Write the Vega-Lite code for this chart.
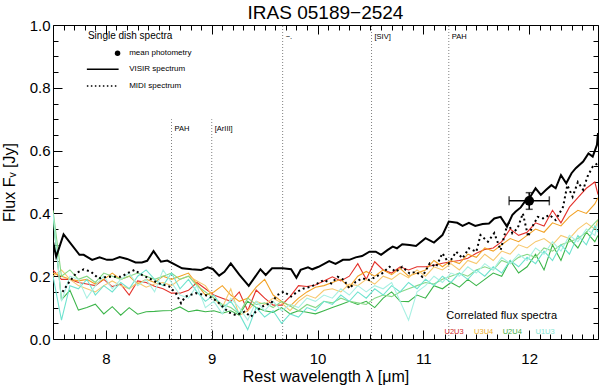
{
  "$schema": "https://vega.github.io/schema/vega-lite/v6.json",
  "width": 545,
  "height": 314,
  "autosize": {"type": "none"},
  "padding": {"left": 53, "top": 25, "right": 2, "bottom": 47},
  "title": {"text": "IRAS 05189\u22122524", "font": "Liberation Sans", "fontSize": 19, "fontWeight": "normal", "color": "#000", "anchor": "middle", "offset": -5},
  "config": {
    "view": {"stroke": "#000", "strokeWidth": 1},
    "font": "Liberation Sans",
    "axis": {"domain": false, "grid": false, "tickColor": "#000", "tickWidth": 1, "labelColor": "#000", "titleColor": "#000", "labelFont": "Liberation Sans", "titleFont": "Liberation Sans", "labelFontSize": 15, "titleFontSize": 16, "titleFontWeight": "normal", "labelOverlap": false, "labelFlush": false}
  },
  "resolve": {"axis": {"x": "independent", "y": "independent"}},
  "datasets": {
    "vl": [
      {"x": 8.62, "bot": 0, "top": 0.70},
      {"x": 9.0, "bot": 0, "top": 0.70},
      {"x": 9.67, "bot": 0, "top": 1.0},
      {"x": 10.51, "bot": 0, "top": 1.0},
      {"x": 11.24, "bot": 0, "top": 1.0}
    ],
    "visir": [
      {"x":7.50,"y":0.31},{"x":7.53,"y":0.262},{"x":7.60,"y":0.333},{"x":7.75,"y":0.268},{"x":7.79,"y":0.268},
      {"x":7.87,"y":0.252},{"x":7.94,"y":0.26},{"x":8.01,"y":0.252},{"x":8.06,"y":0.252},{"x":8.13,"y":0.261},
      {"x":8.20,"y":0.255},{"x":8.28,"y":0.244},{"x":8.34,"y":0.244},{"x":8.39,"y":0.249},{"x":8.45,"y":0.28},
      {"x":8.52,"y":0.246},{"x":8.58,"y":0.25},{"x":8.64,"y":0.239},{"x":8.72,"y":0.225},{"x":8.81,"y":0.222},
      {"x":8.90,"y":0.22},{"x":8.96,"y":0.228},{"x":9.01,"y":0.223},{"x":9.07,"y":0.202},{"x":9.12,"y":0.214},
      {"x":9.18,"y":0.241},{"x":9.26,"y":0.205},{"x":9.35,"y":0.169},{"x":9.46,"y":0.222},{"x":9.51,"y":0.204},
      {"x":9.57,"y":0.225},{"x":9.67,"y":0.225},{"x":9.75,"y":0.222},{"x":9.80,"y":0.195},{"x":9.84,"y":0.22},
      {"x":9.91,"y":0.228},{"x":9.95,"y":0.222},{"x":10.01,"y":0.23},{"x":10.11,"y":0.248},{"x":10.17,"y":0.239},
      {"x":10.24,"y":0.252},{"x":10.30,"y":0.252},{"x":10.36,"y":0.26},{"x":10.42,"y":0.264},{"x":10.49,"y":0.278},
      {"x":10.55,"y":0.278},{"x":10.60,"y":0.268},{"x":10.66,"y":0.283},{"x":10.71,"y":0.294},{"x":10.75,"y":0.289},
      {"x":10.80,"y":0.302},{"x":10.87,"y":0.299},{"x":10.93,"y":0.296},{"x":11.02,"y":0.321},{"x":11.10,"y":0.307},
      {"x":11.18,"y":0.331},{"x":11.24,"y":0.374},{"x":11.32,"y":0.37},{"x":11.37,"y":0.36},{"x":11.43,"y":0.37},
      {"x":11.49,"y":0.36},{"x":11.56,"y":0.366},{"x":11.62,"y":0.368},{"x":11.67,"y":0.384},{"x":11.73,"y":0.389},
      {"x":11.79,"y":0.358},{"x":11.84,"y":0.395},{"x":11.87,"y":0.405},{"x":11.92,"y":0.419},{"x":11.97,"y":0.443},
      {"x":12.01,"y":0.453},{"x":12.06,"y":0.48},{"x":12.11,"y":0.459},{"x":12.16,"y":0.475},{"x":12.21,"y":0.49},
      {"x":12.25,"y":0.48},{"x":12.30,"y":0.522},{"x":12.35,"y":0.496},{"x":12.40,"y":0.528},{"x":12.44,"y":0.544},
      {"x":12.51,"y":0.565},{"x":12.56,"y":0.591},{"x":12.60,"y":0.581},{"x":12.64,"y":0.618},{"x":12.65,"y":0.656}
    ],
    "midi": [
      {"x":7.59,"y":0.15},{"x":7.65,"y":0.18},{"x":7.72,"y":0.21},{"x":7.79,"y":0.222},{"x":7.86,"y":0.214},
      {"x":7.93,"y":0.193},{"x":8.01,"y":0.198},{"x":8.08,"y":0.198},{"x":8.14,"y":0.198},{"x":8.20,"y":0.209},
      {"x":8.27,"y":0.22},{"x":8.34,"y":0.204},{"x":8.41,"y":0.193},{"x":8.50,"y":0.177},{"x":8.60,"y":0.167},
      {"x":8.66,"y":0.146},{"x":8.71,"y":0.114},{"x":8.75,"y":0.135},{"x":8.85,"y":0.146},{"x":8.94,"y":0.14},
      {"x":9.01,"y":0.13},{"x":9.07,"y":0.114},{"x":9.16,"y":0.085},{"x":9.23,"y":0.076},{"x":9.31,"y":0.087},
      {"x":9.37,"y":0.071},{"x":9.43,"y":0.092},{"x":9.50,"y":0.108},{"x":9.56,"y":0.114},{"x":9.62,"y":0.14},
      {"x":9.68,"y":0.151},{"x":9.75,"y":0.135},{"x":9.81,"y":0.151},{"x":9.87,"y":0.161},{"x":9.94,"y":0.167},
      {"x":10.00,"y":0.177},{"x":10.06,"y":0.188},{"x":10.13,"y":0.177},{"x":10.19,"y":0.198},{"x":10.25,"y":0.188},
      {"x":10.30,"y":0.161},{"x":10.36,"y":0.182},{"x":10.42,"y":0.193},{"x":10.49,"y":0.188},{"x":10.55,"y":0.198},
      {"x":10.61,"y":0.209},{"x":10.68,"y":0.23},{"x":10.74,"y":0.214},{"x":10.80,"y":0.23},{"x":10.87,"y":0.209},
      {"x":10.93,"y":0.214},{"x":10.99,"y":0.198},{"x":11.06,"y":0.241},{"x":11.12,"y":0.23},{"x":11.18,"y":0.273},
      {"x":11.24,"y":0.241},{"x":11.31,"y":0.278},{"x":11.37,"y":0.257},{"x":11.43,"y":0.289},{"x":11.50,"y":0.278},
      {"x":11.54,"y":0.331},{"x":11.61,"y":0.31},{"x":11.67,"y":0.337},{"x":11.73,"y":0.283},{"x":11.80,"y":0.374},
      {"x":11.84,"y":0.337},{"x":11.89,"y":0.352},{"x":11.94,"y":0.40},{"x":11.99,"y":0.326},{"x":12.03,"y":0.358},
      {"x":12.08,"y":0.389},{"x":12.13,"y":0.384},{"x":12.19,"y":0.395},{"x":12.25,"y":0.379},{"x":12.32,"y":0.421},
      {"x":12.36,"y":0.49},{"x":12.41,"y":0.453},{"x":12.46,"y":0.50},{"x":12.51,"y":0.475},{"x":12.55,"y":0.517},
      {"x":12.60,"y":0.549},{"x":12.65,"y":0.56}
    ],
    "corr": [
      {"x":7.50,"r":0.22,"o1":0.21,"o2":0.20,"g1":0.39,"g2":0.41,"c1":0.20,"c2":0.40},
      {"x":7.58,"r":0.19,"o1":0.20,"o2":0.22,"g1":0.125,"g2":0.20,"c1":0.06,"c2":0.12},
      {"x":7.66,"r":0.19,"o1":0.19,"o2":0.19,"g1":0.155,"g2":0.22,"c1":0.17,"c2":0.20},
      {"x":7.74,"r":0.18,"o1":0.185,"o2":0.17,"g1":0.092,"g2":0.19,"c1":0.16,"c2":0.19},
      {"x":7.82,"r":0.175,"o1":0.19,"o2":0.16,"g1":0.10,"g2":0.20,"c1":0.19,"c2":0.13},
      {"x":7.90,"r":0.17,"o1":0.175,"o2":0.15,"g1":0.111,"g2":0.18,"c1":0.14,"c2":0.17},
      {"x":7.98,"r":0.19,"o1":0.19,"o2":0.17,"g1":0.08,"g2":0.21,"c1":0.17,"c2":0.20},
      {"x":8.06,"r":0.167,"o1":0.21,"o2":0.185,"g1":0.103,"g2":0.20,"c1":0.15,"c2":0.16},
      {"x":8.14,"r":0.175,"o1":0.19,"o2":0.17,"g1":0.076,"g2":0.19,"c1":0.18,"c2":0.19},
      {"x":8.22,"r":0.14,"o1":0.20,"o2":0.16,"g1":0.10,"g2":0.20,"c1":0.16,"c2":0.21},
      {"x":8.30,"r":0.185,"o1":0.175,"o2":0.18,"g1":0.079,"g2":0.21,"c1":0.20,"c2":0.17},
      {"x":8.38,"r":0.18,"o1":0.19,"o2":0.165,"g1":0.087,"g2":0.20,"c1":0.22,"c2":0.19},
      {"x":8.46,"r":0.168,"o1":0.18,"o2":0.175,"g1":0.088,"g2":0.19,"c1":0.19,"c2":0.15},
      {"x":8.54,"r":0.16,"o1":0.20,"o2":0.18,"g1":0.09,"g2":0.20,"c1":0.17,"c2":0.22},
      {"x":8.62,"r":0.146,"o1":0.19,"o2":0.17,"g1":0.091,"g2":0.21,"c1":0.21,"c2":0.18},
      {"x":8.70,"r":0.146,"o1":0.20,"o2":0.19,"g1":0.102,"g2":0.19,"c1":0.16,"c2":0.14},
      {"x":8.78,"r":0.155,"o1":0.21,"o2":0.20,"g1":0.087,"g2":0.20,"c1":0.19,"c2":0.13},
      {"x":8.86,"r":0.18,"o1":0.175,"o2":0.185,"g1":0.092,"g2":0.17,"c1":0.15,"c2":0.17},
      {"x":8.94,"r":0.16,"o1":0.14,"o2":0.17,"g1":0.087,"g2":0.15,"c1":0.12,"c2":0.10},
      {"x":9.02,"r":0.14,"o1":0.15,"o2":0.13,"g1":0.09,"g2":0.13,"c1":0.14,"c2":0.12},
      {"x":9.10,"r":0.13,"o1":0.17,"o2":0.10,"g1":0.082,"g2":0.11,"c1":0.10,"c2":0.08},
      {"x":9.18,"r":0.12,"o1":0.14,"o2":0.16,"g1":0.09,"g2":0.10,"c1":0.12,"c2":0.13},
      {"x":9.26,"r":0.15,"o1":0.12,"o2":0.075,"g1":0.076,"g2":0.08,"c1":0.08,"c2":0.10},
      {"x":9.34,"r":0.09,"o1":0.13,"o2":0.09,"g1":0.12,"g2":0.13,"c1":0.03,"c2":0.06},
      {"x":9.42,"r":0.156,"o1":0.165,"o2":0.12,"g1":0.10,"g2":0.11,"c1":0.10,"c2":0.12},
      {"x":9.50,"r":0.13,"o1":0.19,"o2":0.11,"g1":0.09,"g2":0.115,"c1":0.07,"c2":0.09},
      {"x":9.58,"r":0.108,"o1":0.14,"o2":0.13,"g1":0.085,"g2":0.10,"c1":0.09,"c2":0.12},
      {"x":9.66,"r":0.108,"o1":0.12,"o2":0.115,"g1":0.10,"g2":0.12,"c1":0.05,"c2":0.09},
      {"x":9.74,"r":0.135,"o1":0.105,"o2":0.09,"g1":0.08,"g2":0.105,"c1":0.08,"c2":0.11},
      {"x":9.82,"r":0.17,"o1":0.13,"o2":0.12,"g1":0.09,"g2":0.09,"c1":0.07,"c2":0.10},
      {"x":9.90,"r":0.167,"o1":0.15,"o2":0.14,"g1":0.085,"g2":0.11,"c1":0.10,"c2":0.13},
      {"x":9.98,"r":0.172,"o1":0.165,"o2":0.13,"g1":0.08,"g2":0.10,"c1":0.09,"c2":0.12},
      {"x":10.06,"r":0.185,"o1":0.17,"o2":0.155,"g1":0.09,"g2":0.12,"c1":0.12,"c2":0.14},
      {"x":10.14,"r":0.198,"o1":0.18,"o2":0.16,"g1":0.10,"g2":0.115,"c1":0.11,"c2":0.13},
      {"x":10.22,"r":0.185,"o1":0.19,"o2":0.15,"g1":0.11,"g2":0.13,"c1":0.14,"c2":0.16},
      {"x":10.30,"r":0.20,"o1":0.165,"o2":0.175,"g1":0.12,"g2":0.12,"c1":0.12,"c2":0.14},
      {"x":10.38,"r":0.24,"o1":0.20,"o2":0.17,"g1":0.11,"g2":0.115,"c1":0.15,"c2":0.17},
      {"x":10.46,"r":0.19,"o1":0.215,"o2":0.19,"g1":0.12,"g2":0.11,"c1":0.13,"c2":0.15},
      {"x":10.54,"r":0.246,"o1":0.20,"o2":0.175,"g1":0.10,"g2":0.13,"c1":0.16,"c2":0.17},
      {"x":10.62,"r":0.22,"o1":0.22,"o2":0.20,"g1":0.13,"g2":0.14,"c1":0.14,"c2":0.16},
      {"x":10.70,"r":0.21,"o1":0.205,"o2":0.19,"g1":0.15,"g2":0.135,"c1":0.17,"c2":0.18},
      {"x":10.78,"r":0.23,"o1":0.225,"o2":0.21,"g1":0.12,"g2":0.15,"c1":0.15,"c2":0.12},
      {"x":10.86,"r":0.22,"o1":0.20,"o2":0.195,"g1":0.119,"g2":0.16,"c1":0.18,"c2":0.06},
      {"x":10.94,"r":0.23,"o1":0.21,"o2":0.22,"g1":0.14,"g2":0.17,"c1":0.16,"c2":0.15},
      {"x":11.02,"r":0.23,"o1":0.22,"o2":0.20,"g1":0.13,"g2":0.18,"c1":0.19,"c2":0.17},
      {"x":11.10,"r":0.235,"o1":0.25,"o2":0.23,"g1":0.17,"g2":0.175,"c1":0.17,"c2":0.20},
      {"x":11.18,"r":0.241,"o1":0.23,"o2":0.22,"g1":0.16,"g2":0.19,"c1":0.20,"c2":0.18},
      {"x":11.26,"r":0.246,"o1":0.25,"o2":0.24,"g1":0.18,"g2":0.20,"c1":0.18,"c2":0.21},
      {"x":11.34,"r":0.25,"o1":0.24,"o2":0.22,"g1":0.165,"g2":0.21,"c1":0.21,"c2":0.20},
      {"x":11.42,"r":0.257,"o1":0.27,"o2":0.25,"g1":0.19,"g2":0.20,"c1":0.19,"c2":0.23},
      {"x":11.50,"r":0.273,"o1":0.26,"o2":0.24,"g1":0.17,"g2":0.22,"c1":0.22,"c2":0.21},
      {"x":11.58,"r":0.285,"o1":0.29,"o2":0.27,"g1":0.19,"g2":0.23,"c1":0.20,"c2":0.24},
      {"x":11.66,"r":0.29,"o1":0.28,"o2":0.25,"g1":0.21,"g2":0.22,"c1":0.23,"c2":0.22},
      {"x":11.74,"r":0.31,"o1":0.30,"o2":0.28,"g1":0.20,"g2":0.25,"c1":0.21,"c2":0.26},
      {"x":11.82,"r":0.35,"o1":0.32,"o2":0.27,"g1":0.25,"g2":0.24,"c1":0.25,"c2":0.24},
      {"x":11.90,"r":0.33,"o1":0.31,"o2":0.30,"g1":0.21,"g2":0.26,"c1":0.23,"c2":0.27},
      {"x":11.98,"r":0.34,"o1":0.33,"o2":0.29,"g1":0.23,"g2":0.27,"c1":0.26,"c2":0.25},
      {"x":12.06,"r":0.37,"o1":0.35,"o2":0.31,"g1":0.27,"g2":0.26,"c1":0.24,"c2":0.29},
      {"x":12.14,"r":0.36,"o1":0.34,"o2":0.32,"g1":0.22,"g2":0.29,"c1":0.28,"c2":0.27},
      {"x":12.22,"r":0.41,"o1":0.37,"o2":0.30,"g1":0.30,"g2":0.28,"c1":0.25,"c2":0.31},
      {"x":12.30,"r":0.37,"o1":0.36,"o2":0.33,"g1":0.25,"g2":0.30,"c1":0.30,"c2":0.28},
      {"x":12.38,"r":0.42,"o1":0.39,"o2":0.32,"g1":0.32,"g2":0.31,"c1":0.27,"c2":0.33},
      {"x":12.46,"r":0.45,"o1":0.41,"o2":0.35,"g1":0.29,"g2":0.32,"c1":0.33,"c2":0.31},
      {"x":12.54,"r":0.48,"o1":0.40,"o2":0.37,"g1":0.34,"g2":0.34,"c1":0.30,"c2":0.35},
      {"x":12.62,"r":0.50,"o1":0.43,"o2":0.35,"g1":0.31,"g2":0.37,"c1":0.36,"c2":0.33},
      {"x":12.65,"r":0.46,"o1":0.45,"o2":0.38,"g1":0.33,"g2":0.38,"c1":0.34,"c2":0.37}
    ],
    "phot": [{"lam": 12.0, "f": 0.44, "xlo": 11.81, "xhi": 12.19, "flo": 0.413, "fhi": 0.466}],
    "lines": [
      {"t": "PAH", "x": 8.62, "y": 0.669},
      {"t": "[ArIII]", "x": 9.0, "y": 0.669},
      {"t": "\u2212.", "x": 9.67, "y": 0.963},
      {"t": "[SIV]", "x": 10.51, "y": 0.963},
      {"t": "PAH", "x": 11.24, "y": 0.963}
    ],
    "legtitle": [{"t": "Single dish spectra", "x": 7.83, "y": 0.965}],
    "legitems": [
      {"t": "mean photometry", "x": 8.22, "y": 0.91},
      {"t": "VISIR spectrum", "x": 8.22, "y": 0.859},
      {"t": "MIDI spectrum", "x": 8.22, "y": 0.806}
    ],
    "legpoint": [{"x": 8.11, "y": 0.91}],
    "legsolid": [{"x": 7.82, "x2": 8.12, "y": 0.859}],
    "legdot": [{"x": 7.82, "x2": 8.12, "y": 0.806}],
    "corrtitle": [{"t": "Correlated flux spectra", "x": 11.74, "y": 0.073}],
    "corrlab": [
      {"t": "U2U3", "key": "rt", "x": 11.29, "y": 0.022},
      {"t": "U3U4", "key": "ot", "x": 11.57, "y": 0.022},
      {"t": "U2U4", "key": "gt", "x": 11.84, "y": 0.022},
      {"t": "U1U3", "key": "ct", "x": 12.15, "y": 0.022}
    ]
  },
  "layer": [
    {
      "data": {"name": "vl"},
      "mark": {"type": "rule", "color": "#808080", "strokeWidth": 1, "strokeDash": [1, 2]},
      "encoding": {
        "x": {"field": "x", "type": "quantitative", "scale": {"domain": [7.5, 12.65], "nice": false, "zero": false},
              "axis": {"orient": "bottom", "values": [8, 9, 10, 11, 12], "tickSize": -9, "labelPadding": 21, "title": "Rest wavelength \u03bb [\u03bcm]", "titleX": 272.5, "titleY": 37.5, "titleBaseline": "middle", "titleAlign": "center"}},
        "y": {"field": "bot", "type": "quantitative", "scale": {"domain": [0, 1], "nice": false, "zero": false},
              "axis": {"orient": "left", "values": [0, 0.2, 0.4, 0.6, 0.8, 1.0], "format": ".1f", "tickSize": -9, "labelPadding": 12, "title": "Flux F\u1d65 [Jy]", "titleX": -44, "titleY": 157, "titleBaseline": "middle", "titleAlign": "center", "titleAngle": -90}},
        "y2": {"field": "top"}
      }
    },
    {
      "data": {"name": "corr"},
      "transform": [{"fold": ["r", "o1", "o2", "g1", "g2", "c1", "c2"]}],
      "mark": {"type": "line", "strokeWidth": 1.1, "clip": true},
      "encoding": {
        "x": {"field": "x", "type": "quantitative", "scale": {"domain": [7.5, 12.65], "nice": false, "zero": false},
              "axis": {"orient": "bottom", "values": [7.6,7.7,7.8,7.9,8.1,8.2,8.3,8.4,8.5,8.6,8.7,8.8,8.9,9.1,9.2,9.3,9.4,9.5,9.6,9.7,9.8,9.9,10.1,10.2,10.3,10.4,10.5,10.6,10.7,10.8,10.9,11.1,11.2,11.3,11.4,11.5,11.6,11.7,11.8,11.9,12.1,12.2,12.3,12.4,12.5,12.6], "tickSize": -5, "labels": false, "title": null}},
        "y": {"field": "value", "type": "quantitative", "scale": {"domain": [0, 1], "nice": false, "zero": false},
              "axis": {"orient": "left", "values": [0.05,0.1,0.15,0.25,0.3,0.35,0.45,0.5,0.55,0.65,0.7,0.75,0.85,0.9,0.95], "tickSize": -5, "labels": false, "title": null}},
        "color": {"field": "key", "type": "nominal", "legend": null,
                  "scale": {"domain": ["r", "o1", "o2", "g1", "g2", "c1", "c2", "rt", "ot", "gt", "ct"], "range": ["#e4322b", "#f2a226", "#f7c86e", "#3cb54a", "#86d886", "#6fe3cf", "#a8f0e3", "#d01c22", "#eeae2a", "#3fae3f", "#86e6d4"]}},
        "detail": {"field": "key", "type": "nominal"}
      }
    },
    {
      "data": {"name": "midi"},
      "mark": {"type": "line", "color": "#000", "strokeWidth": 2, "strokeDash": [2, 3], "clip": true},
      "encoding": {
        "x": {"field": "x", "type": "quantitative", "scale": {"domain": [7.5, 12.65], "nice": false, "zero": false},
              "axis": {"orient": "top", "values": [8, 9, 10, 11, 12], "tickSize": -9, "labels": false, "title": null}},
        "y": {"field": "y", "type": "quantitative", "scale": {"domain": [0, 1], "nice": false, "zero": false},
              "axis": {"orient": "right", "values": [0, 0.2, 0.4, 0.6, 0.8, 1.0], "tickSize": -9, "labels": false, "title": null}}
      }
    },
    {
      "data": {"name": "visir"},
      "mark": {"type": "line", "color": "#000", "strokeWidth": 2, "clip": true},
      "encoding": {
        "x": {"field": "x", "type": "quantitative", "scale": {"domain": [7.5, 12.65], "nice": false, "zero": false},
              "axis": {"orient": "top", "values": [7.6,7.7,7.8,7.9,8.1,8.2,8.3,8.4,8.5,8.6,8.7,8.8,8.9,9.1,9.2,9.3,9.4,9.5,9.6,9.7,9.8,9.9,10.1,10.2,10.3,10.4,10.5,10.6,10.7,10.8,10.9,11.1,11.2,11.3,11.4,11.5,11.6,11.7,11.8,11.9,12.1,12.2,12.3,12.4,12.5,12.6], "tickSize": -5, "labels": false, "title": null}},
        "y": {"field": "y", "type": "quantitative", "scale": {"domain": [0, 1], "nice": false, "zero": false},
              "axis": {"orient": "right", "values": [0.05,0.1,0.15,0.25,0.3,0.35,0.45,0.5,0.55,0.65,0.7,0.75,0.85,0.9,0.95], "tickSize": -5, "labels": false, "title": null}}
      }
    },
    {
      "data": {"name": "phot"},
      "mark": {"type": "rule", "color": "#000", "strokeWidth": 1.5},
      "encoding": {
        "x": {"field": "xlo", "type": "quantitative", "scale": {"domain": [7.5, 12.65], "nice": false, "zero": false}, "axis": null},
        "x2": {"field": "xhi"},
        "y": {"field": "f", "type": "quantitative", "scale": {"domain": [0, 1], "nice": false, "zero": false}, "axis": null}
      }
    },
    {
      "data": {"name": "phot"},
      "mark": {"type": "rule", "color": "#000", "strokeWidth": 1.5},
      "encoding": {
        "x": {"field": "lam", "type": "quantitative", "scale": {"domain": [7.5, 12.65], "nice": false, "zero": false}, "axis": null},
        "y": {"field": "flo", "type": "quantitative", "scale": {"domain": [0, 1], "nice": false, "zero": false}, "axis": null},
        "y2": {"field": "fhi"}
      }
    },
    {
      "data": {"name": "phot"},
      "mark": {"type": "tick", "orient": "vertical", "color": "#000", "size": 9, "thickness": 1.5},
      "encoding": {
        "x": {"field": "xlo", "type": "quantitative", "scale": {"domain": [7.5, 12.65], "nice": false, "zero": false}, "axis": null},
        "y": {"field": "f", "type": "quantitative", "scale": {"domain": [0, 1], "nice": false, "zero": false}, "axis": null}
      }
    },
    {
      "data": {"name": "phot"},
      "mark": {"type": "tick", "orient": "vertical", "color": "#000", "size": 9, "thickness": 1.5},
      "encoding": {
        "x": {"field": "xhi", "type": "quantitative", "scale": {"domain": [7.5, 12.65], "nice": false, "zero": false}, "axis": null},
        "y": {"field": "f", "type": "quantitative", "scale": {"domain": [0, 1], "nice": false, "zero": false}, "axis": null}
      }
    },
    {
      "data": {"name": "phot"},
      "mark": {"type": "tick", "orient": "horizontal", "color": "#000", "size": 7, "thickness": 1.5},
      "encoding": {
        "x": {"field": "lam", "type": "quantitative", "scale": {"domain": [7.5, 12.65], "nice": false, "zero": false}, "axis": null},
        "y": {"field": "flo", "type": "quantitative", "scale": {"domain": [0, 1], "nice": false, "zero": false}, "axis": null}
      }
    },
    {
      "data": {"name": "phot"},
      "mark": {"type": "tick", "orient": "horizontal", "color": "#000", "size": 7, "thickness": 1.5},
      "encoding": {
        "x": {"field": "lam", "type": "quantitative", "scale": {"domain": [7.5, 12.65], "nice": false, "zero": false}, "axis": null},
        "y": {"field": "fhi", "type": "quantitative", "scale": {"domain": [0, 1], "nice": false, "zero": false}, "axis": null}
      }
    },
    {
      "data": {"name": "phot"},
      "mark": {"type": "circle", "color": "#000", "opacity": 1, "size": 95},
      "encoding": {
        "x": {"field": "lam", "type": "quantitative", "scale": {"domain": [7.5, 12.65], "nice": false, "zero": false}, "axis": null},
        "y": {"field": "f", "type": "quantitative", "scale": {"domain": [0, 1], "nice": false, "zero": false}, "axis": null}
      }
    },
    {
      "data": {"name": "lines"},
      "mark": {"type": "text", "align": "left", "baseline": "middle", "dx": 3, "fontSize": 7.5, "font": "Liberation Sans", "color": "#000"},
      "encoding": {
        "x": {"field": "x", "type": "quantitative", "scale": {"domain": [7.5, 12.65], "nice": false, "zero": false}, "axis": null},
        "y": {"field": "y", "type": "quantitative", "scale": {"domain": [0, 1], "nice": false, "zero": false}, "axis": null},
        "text": {"field": "t", "type": "nominal"}
      }
    },
    {
      "data": {"name": "legtitle"},
      "mark": {"type": "text", "align": "left", "baseline": "middle", "fontSize": 10, "font": "Liberation Sans", "color": "#000"},
      "encoding": {
        "x": {"field": "x", "type": "quantitative", "scale": {"domain": [7.5, 12.65], "nice": false, "zero": false}, "axis": null},
        "y": {"field": "y", "type": "quantitative", "scale": {"domain": [0, 1], "nice": false, "zero": false}, "axis": null},
        "text": {"field": "t", "type": "nominal"}
      }
    },
    {
      "data": {"name": "legitems"},
      "mark": {"type": "text", "align": "left", "baseline": "middle", "fontSize": 8, "font": "Liberation Sans", "color": "#000"},
      "encoding": {
        "x": {"field": "x", "type": "quantitative", "scale": {"domain": [7.5, 12.65], "nice": false, "zero": false}, "axis": null},
        "y": {"field": "y", "type": "quantitative", "scale": {"domain": [0, 1], "nice": false, "zero": false}, "axis": null},
        "text": {"field": "t", "type": "nominal"}
      }
    },
    {
      "data": {"name": "legpoint"},
      "mark": {"type": "circle", "color": "#000", "opacity": 1, "size": 30},
      "encoding": {
        "x": {"field": "x", "type": "quantitative", "scale": {"domain": [7.5, 12.65], "nice": false, "zero": false}, "axis": null},
        "y": {"field": "y", "type": "quantitative", "scale": {"domain": [0, 1], "nice": false, "zero": false}, "axis": null}
      }
    },
    {
      "data": {"name": "legsolid"},
      "mark": {"type": "rule", "color": "#000", "strokeWidth": 1.5},
      "encoding": {
        "x": {"field": "x", "type": "quantitative", "scale": {"domain": [7.5, 12.65], "nice": false, "zero": false}, "axis": null},
        "x2": {"field": "x2"},
        "y": {"field": "y", "type": "quantitative", "scale": {"domain": [0, 1], "nice": false, "zero": false}, "axis": null}
      }
    },
    {
      "data": {"name": "legdot"},
      "mark": {"type": "rule", "color": "#000", "strokeWidth": 1.5, "strokeDash": [1.5, 2.5]},
      "encoding": {
        "x": {"field": "x", "type": "quantitative", "scale": {"domain": [7.5, 12.65], "nice": false, "zero": false}, "axis": null},
        "x2": {"field": "x2"},
        "y": {"field": "y", "type": "quantitative", "scale": {"domain": [0, 1], "nice": false, "zero": false}, "axis": null}
      }
    },
    {
      "data": {"name": "corrtitle"},
      "mark": {"type": "text", "align": "center", "baseline": "middle", "fontSize": 11, "font": "Liberation Sans", "color": "#000"},
      "encoding": {
        "x": {"field": "x", "type": "quantitative", "scale": {"domain": [7.5, 12.65], "nice": false, "zero": false}, "axis": null},
        "y": {"field": "y", "type": "quantitative", "scale": {"domain": [0, 1], "nice": false, "zero": false}, "axis": null},
        "text": {"field": "t", "type": "nominal"}
      }
    },
    {
      "data": {"name": "corrlab"},
      "mark": {"type": "text", "align": "center", "baseline": "middle", "fontSize": 7.5, "font": "Liberation Sans"},
      "encoding": {
        "x": {"field": "x", "type": "quantitative", "scale": {"domain": [7.5, 12.65], "nice": false, "zero": false}, "axis": null},
        "y": {"field": "y", "type": "quantitative", "scale": {"domain": [0, 1], "nice": false, "zero": false}, "axis": null},
        "color": {"field": "key", "type": "nominal", "legend": null,
                  "scale": {"domain": ["r", "o1", "o2", "g1", "g2", "c1", "c2", "rt", "ot", "gt", "ct"], "range": ["#e4322b", "#f2a226", "#f7c86e", "#3cb54a", "#86d886", "#6fe3cf", "#a8f0e3", "#d01c22", "#eeae2a", "#3fae3f", "#86e6d4"]}},
        "text": {"field": "t", "type": "nominal"}
      }
    }
  ]
}
